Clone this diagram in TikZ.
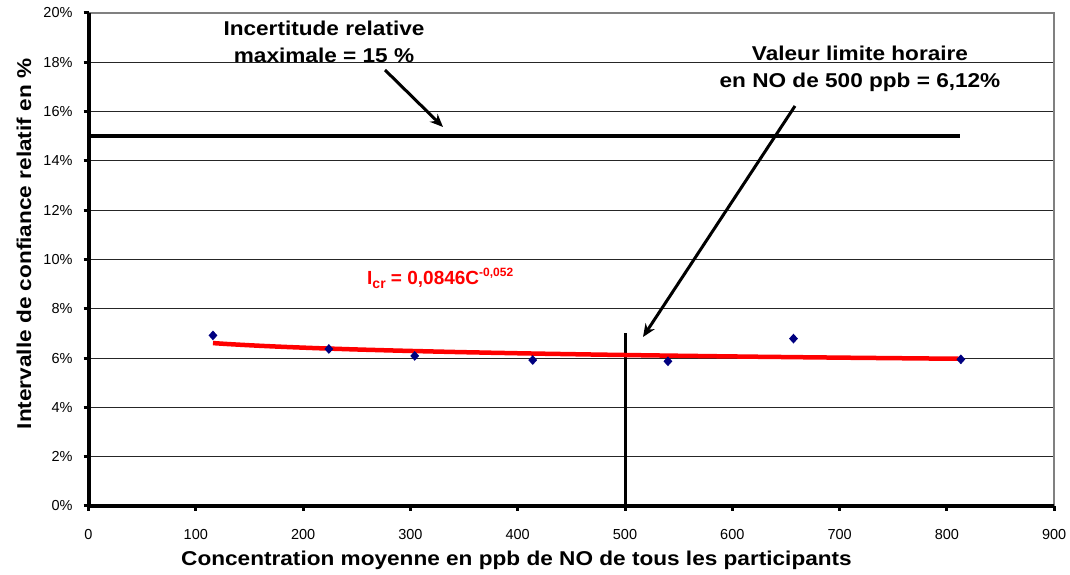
\documentclass[tikz,border=0pt]{standalone}
\usepackage{fontspec}
\setmainfont{Liberation Sans}
\usetikzlibrary{shapes.geometric,arrows.meta}
\definecolor{navy}{RGB}{0,0,128}
\definecolor{bordergray}{RGB}{128,128,128}
\newcommand{\wide}[1]{\scalebox{1.13}[1]{#1}}
\tikzset{
  grid line/.style={line width=1pt, black!85},
  axis line/.style={line width=4pt, black},
  ticklabel/.style={font=\fontsize{14.5}{16}\selectfont, inner sep=0pt},
  title/.style={font=\fontsize{20}{24}\selectfont\bfseries, inner sep=0pt},
  annot/.style={font=\fontsize{20}{27}\selectfont\bfseries, align=center, inner sep=0pt},
  pointer/.style={line width=3pt, -{Stealth[length=13pt,width=11pt]}},
  datapt/.style={diamond, fill=navy, inner sep=0pt, minimum width=9pt, minimum height=10pt},
}
\begin{document}
\begin{tikzpicture}[x=1pt,y=1pt]
\useasboundingbox (0,0) rectangle (1070,575);
\fill[white] (0,0) rectangle (1070,575);
\begin{scope}[shift={(88.5pt,69pt)}, x=1.073pt, y=24.65pt]
  % grid lines
  \foreach \p in {2,4,...,18} {
    \draw[grid line] (0,\p) -- (900,\p);
  }
  % border
  \draw[line width=1.5pt, bordergray] (0,20) -- (900,20) -- (900,0);
  % y ticks and labels
  \foreach \p in {0,2,...,20} {
    \draw[line width=3pt] (-5pt,\p) -- (0,\p);
    \node[ticklabel, anchor=east] (yl\p) at ([xshift=-15.8pt]0,\p) {\p\%};
  }
  % x ticks and labels
  \foreach \c in {0,100,...,900} {
    \draw[line width=3pt] (\c,0) -- ([yshift=-5pt]\c,0);
    \node[ticklabel] (xl\c) at ([yshift=-28.7pt]\c,0) {\c};
  }
  % axes
  \draw[axis line] (0,20) -- (0,0) -- (900,0);
  % 15% limit line
  \coordinate (h1) at (0,15);
  \coordinate (h2) at (812,15);
  \draw[line width=4pt] (h1) -- (h2);
  % vertical line at 500
  \coordinate (v1) at (500,0);
  \coordinate (v2) at (500,7);
  \draw[line width=3pt] (v1) -- (v2);
  % fitted curve
  \draw[red, line width=4.5pt, domain=116:813, samples=60] plot (\x, {8.46*exp(-0.052*ln(\x))});
  % data points
  \node[datapt] (p1) at (116,6.92) {};
  \node[datapt] (p2) at (224,6.37) {};
  \node[datapt] (p3) at (304,6.09) {};
  \node[datapt] (p4) at (414,5.92) {};
  \node[datapt] (p5) at (540,5.87) {};
  \node[datapt] (p6) at (657,6.79) {};
  \node[datapt] (p7) at (813,5.95) {};
\end{scope}
% axis titles
\node[title, rotate=90] (ytitle) at (24,331) {\wide{Intervalle de confiance relatif en \%}};
\node[title, anchor=base] (xtitle) at (516.5,9.5) {\wide{Concentration moyenne en ppb de NO de tous les participants}};
% annotations
\node[annot, anchor=north] (t1) at (324,554.5) {\wide{Incertitude relative}\\\wide{maximale = 15 \%}};
\node[annot, anchor=north] (t2) at (860,529.5) {\wide{Valeur limite horaire}\\\wide{en NO de 500 ppb = 6,12\%}};
\node[text=red, inner sep=0pt, anchor=base west, font=\bfseries] (eq) at (367,290)
  {\fontsize{19}{22}\selectfont I\raisebox{-4pt}{\fontsize{14}{16}\selectfont cr} = 0,0846C\raisebox{8pt}{\fontsize{12}{14}\selectfont -0,052}};
% arrows
\coordinate (a1s) at (385,505);
\coordinate (a1e) at (443,448);
\coordinate (a2s) at (795,469);
\coordinate (a2e) at (643,238);
\draw[pointer] (a1s) -- (a1e);
\draw[pointer] (a2s) -- (a2e);
\end{tikzpicture}
\end{document}
